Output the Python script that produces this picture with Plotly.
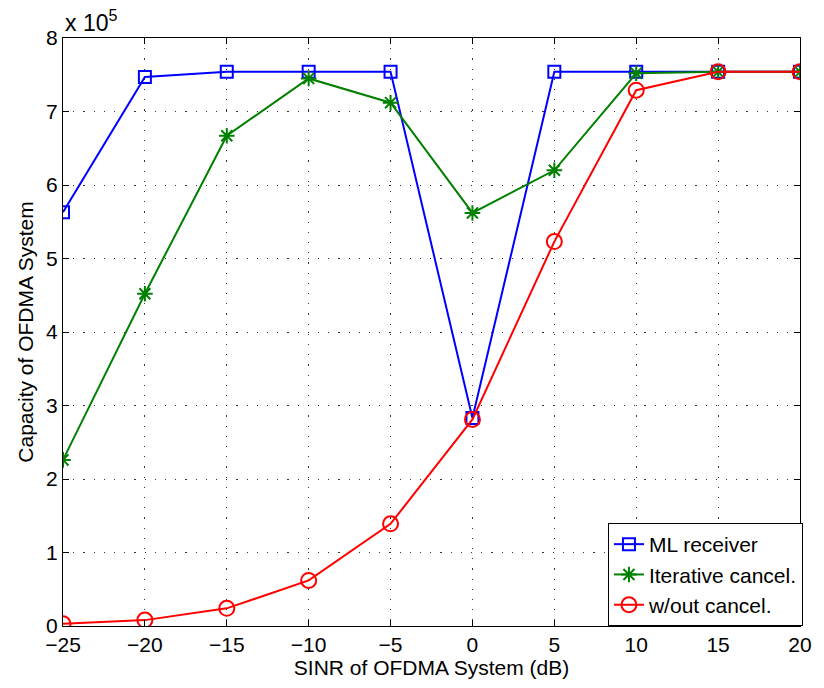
import plotly.graph_objects as go

sinr_db = [-25, -20, -15, -10, -5, 0, 5, 10, 15, 20]
ml_receiver = [5.63, 7.47, 7.54, 7.54, 7.54, 2.83, 7.54, 7.54, 7.54, 7.54]
iterative_cancel = [2.26, 4.52, 6.67, 7.45, 7.12, 5.62, 6.20, 7.52, 7.54, 7.54]
without_cancel = [0.03, 0.08, 0.24, 0.62, 1.39, 2.81, 5.23, 7.29, 7.54, 7.54]

x_ticks = [-25, -20, -15, -10, -5, 0, 5, 10, 15, 20]
y_ticks = [0, 1, 2, 3, 4, 5, 6, 7, 8]

FONT = "Liberation Sans, Arial, Helvetica, sans-serif"
FS = 21

fig = go.Figure()
fig.add_trace(go.Scatter(
    x=sinr_db, y=ml_receiver, name="ML receiver", mode="lines+markers",
    line=dict(color="#0000ff", width=2),
    marker=dict(symbol="square-open", size=12, color="#0000ff", line=dict(width=2)),
))
fig.add_trace(go.Scatter(
    x=sinr_db, y=iterative_cancel, name="Iterative cancel.", mode="lines+markers",
    line=dict(color="#008000", width=2),
    marker=dict(symbol="asterisk-open", size=13, color="#008000", line=dict(width=2, color="#008000")),
))
fig.add_trace(go.Scatter(
    x=sinr_db, y=without_cancel, name="w/out cancel.", mode="lines+markers",
    line=dict(color="#ff0000", width=2),
    marker=dict(symbol="circle-open", size=15, color="#ff0000", line=dict(width=2)),
))

axis_common = dict(
    showline=True, linecolor="black", linewidth=1.3, mirror="ticks",
    ticks="inside", ticklen=6, tickcolor="black", tickwidth=1,
    showgrid=True, gridcolor="rgba(0,0,0,0.8)", gridwidth=1, griddash="1.2px,9px",
    zeroline=False, tickfont=dict(family=FONT, size=FS, color="black"),
)

fig.update_layout(
    width=824, height=688,
    margin=dict(l=63, r=15, t=38, b=62),
    paper_bgcolor="white", plot_bgcolor="white",
    font=dict(family=FONT, size=FS, color="black"),
    xaxis=dict(range=[-25, 20], tickvals=x_ticks, **axis_common,
               title=dict(text="SINR of OFDMA System (dB)", font=dict(family=FONT, size=FS), standoff=2)),
    yaxis=dict(range=[0, 8], tickvals=y_ticks, **axis_common,
               title=dict(text="Capacity of OFDMA System", font=dict(family=FONT, size=FS), standoff=6)),
    legend=dict(x=1.004, y=0, xanchor="right", yanchor="bottom",
                bgcolor="white", bordercolor="black", borderwidth=1,
                font=dict(family=FONT, size=FS, color="black"),
                tracegroupgap=0),
    showlegend=True,
    annotations=[dict(text="x 10<sup>5</sup>", x=0, y=1, xref="paper", yref="paper",
                      xanchor="left", yanchor="bottom", showarrow=False, yshift=0,
                      font=dict(family=FONT, size=23, color="black"))],
)

fig.write_html("out.html")
